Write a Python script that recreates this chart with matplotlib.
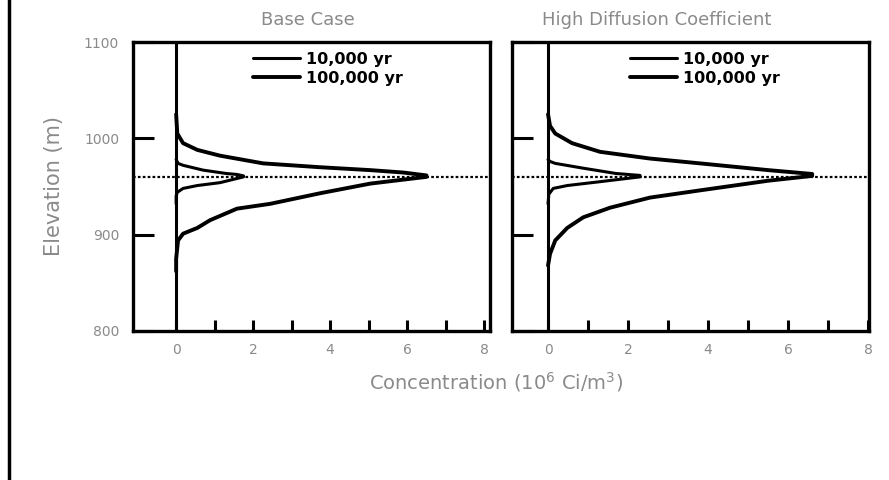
import matplotlib
matplotlib.use("Agg")
import matplotlib.pyplot as plt
from matplotlib.lines import Line2D

# ---- data ----
series_labels = ["10,000 yr", "100,000 yr"]
panel_titles = ["Base Case", "High Diffusion Coefficient"]
x_ticks_major = [0, 2, 4, 6, 8]
x_ticks_minor = [1, 3, 5, 7]
y_ticks = [800, 900, 1000, 1100]
ref_elevation = 960

# Base case, 10,000 yr (concentration, elevation)
base_10k_conc = [0, 0.05, 0.18, 0.7, 1.3, 1.58, 1.75, 1.75, 1.14, 0.55, 0.18, 0.03, 0, 0]
base_10k_elev = [978, 974, 972, 967, 963.5, 962.5, 961, 960, 954, 951, 948, 944, 940, 932]
# Base case, 100,000 yr
base_100k_conc = [0, 0.03, 0.18, 0.55, 1.14, 2.26, 3.74, 5.04, 5.9, 6.5,
                  6.5, 5.04, 3.74, 2.44, 1.58, 0.88, 0.55, 0.18, 0.05, 0, 0]
base_100k_elev = [1025, 1005, 995, 988, 982, 974, 970, 967, 964.5, 961.5,
                  960, 953, 943, 932, 927, 915, 907, 901, 894, 875, 862]
# High diffusion, 10,000 yr
high_10k_conc = [0, 0.05, 0.18, 0.88, 1.7, 2.3, 2.3, 1.3, 0.48, 0.13, 0.02, 0]
high_10k_elev = [978, 976, 974, 969, 963.5, 961.5, 960, 955, 951, 948, 942, 932]
# High diffusion, 100,000 yr
high_100k_conc = [0, 0.05, 0.18, 0.6, 1.3, 2.55, 3.8, 5.5, 6.6,
                  6.6, 5.5, 3.8, 2.55, 1.55, 0.88, 0.48, 0.18, 0.05, 0]
high_100k_elev = [1025, 1013, 1005, 995, 986, 979, 974, 967, 963,
                  961, 956, 946, 938.5, 928, 918, 907, 894, 880, 868]

panels = [
    (base_10k_conc, base_10k_elev, base_100k_conc, base_100k_elev),
    (high_10k_conc, high_10k_elev, high_100k_conc, high_100k_elev),
]

W, H = 889, 480
fig = plt.figure(figsize=(W / 100, H / 100), dpi=100)
plt.rcParams['font.family'] = ['DejaVu Sans']

gray = "#8a8a8a"
axes_px = [(133, 42, 490, 331), (512, 42, 869, 331)]
xlims = [(-1.12, 8.15), (-0.9, 8.02)]
title_x = [0.49, 0.405]

for i, (c10, e10, c100, e100) in enumerate(panels):
    l, t, r, b = axes_px[i]
    ax = fig.add_axes([l / W, 1 - b / H, (r - l) / W, (b - t) / H])
    ax.plot(c10, e10, color="black", lw=2.2, solid_capstyle="round",
            solid_joinstyle="round", label=series_labels[0])
    ax.plot(c100, e100, color="black", lw=2.8, solid_capstyle="round",
            solid_joinstyle="round", label=series_labels[1])
    ax.axvline(0, color="black", lw=2.2, zorder=1)
    ax.axhline(ref_elevation, color="black", lw=1.6, ls=(0, (1.2, 1.0)), zorder=1)
    ax.set_xlim(*xlims[i])
    ax.set_ylim(800, 1100)
    for s in ax.spines.values():
        s.set_linewidth(2.4)
    ax.set_xticks(x_ticks_major)
    ax.set_xticks(x_ticks_minor, minor=True)
    ax.set_yticks(y_ticks)
    ax.tick_params(axis="x", which="both", direction="in", length=8, width=2.2,
                   labelsize=10, labelcolor=gray, pad=9)
    ax.tick_params(axis="y", direction="in", length=15, width=2.2,
                   labelsize=10, labelcolor=gray, pad=10)
    if i == 1:
        ax.tick_params(axis="y", labelleft=False)
    else:
        ax.set_ylabel("Elevation (m)", color=gray, fontsize=15, labelpad=14)
    ax.set_title(panel_titles[i], color=gray, fontsize=13, x=title_x[i], pad=12)
    leg = ax.legend(loc="upper left", bbox_to_anchor=(0.31 if i == 0 else 0.305, 1.0),
                    frameon=False, handlelength=2.9, handletextpad=0.4,
                    labelspacing=0.25, prop={"weight": "bold", "size": 11.5},
                    borderaxespad=0.2)

fig.text(496 / W, 1 - 382 / H, "Concentration (10$^6$ Ci/m$^3$)", color=gray,
         fontsize=14, ha="center", va="center")

fig.add_artist(Line2D([9 / W, 9 / W], [0, 1], transform=fig.transFigure,
                      color="black", lw=2.5))

fig.savefig("out.png", dpi=100, facecolor="white")
